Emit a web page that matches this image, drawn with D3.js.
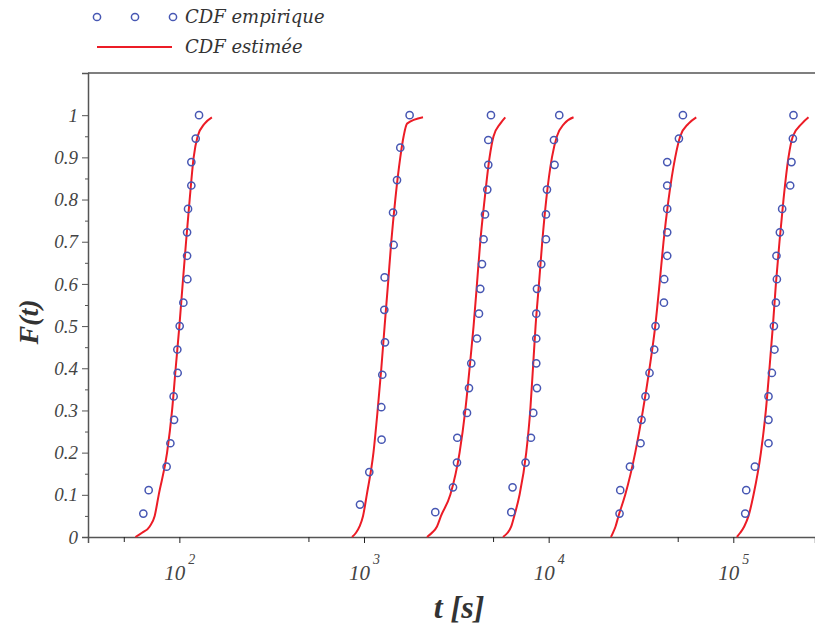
<!DOCTYPE html>
<html>
<head>
<meta charset="utf-8">
<script src="https://cdnjs.cloudflare.com/ajax/libs/d3/7.8.5/d3.min.js"></script>
<style>
  html, body { margin: 0; padding: 0; background: #fff; }
  svg { display: block; }
  .tick text { font-family: "Liberation Serif", "Times New Roman", serif; font-style: italic; }
</style>
</head>
<body>
<svg id="chart" width="815" height="630"></svg>
<script>
// ---------- data ----------
// empirical samples t [s], in rank order; F = rank / n
const sample1 = [63.8, 68.2, 85.3, 89.4, 93.6, 93.1, 97.9, 97.5, 100.4, 105.1, 110.5, 110.1, 110.1, 111.4, 116.1, 116.1, 122.6, 127.8];
const sample2 = [951, 1068, 1245, 1241, 1256, 1299, 1288, 1293, 1447, 1436, 1509, 1572, 1766];
const sample3 = [2432, 3034, 3188, 3200, 3612, 3703, 3810, 4090, 4194, 4263, 4354, 4442, 4520, 4652, 4710, 4710, 4870];
const sample4 = [6273, 6375, 7499, 8021, 8254, 8643, 8570, 8570, 8570, 8643, 9120, 9670, 9670, 9790, 10765, 10683, 11414];
const sample5 = [24210, 24420, 27560, 31450, 31840, 33460, 35180, 37300, 37920, 42100, 42260, 43860, 43860, 43860, 43860, 43860, 50750, 53350];
const sample6 = [116000, 117500, 130900, 155100, 155100, 155100, 161800, 167100, 165900, 170100, 172200, 171300, 178700, 183900, 203300, 206600, 210200, 211800];

// estimated CDF curves: t [s] read at the probability levels below
const curveLevels = [0, 0.01, 0.025, 0.05, 0.1, 0.2, 0.3, 0.4, 0.5, 0.6, 0.7, 0.8, 0.9, 0.95, 0.98, 0.995];
const curve1 = [57.8, 62.8, 69.1, 73.5, 77.3, 85.8, 91.3, 95.5, 100, 104.2, 108.7, 113.7, 119.5, 125.6, 137, 150];
const curve2 = [861, 905, 946, 988, 1035, 1125, 1185, 1241, 1293, 1349, 1405, 1477, 1572, 1639, 1710, 2087];
const curve3 = [2193, 2334, 2485, 2612, 2933, 3293, 3536, 3730, 3921, 4090, 4263, 4498, 4786, 5030, 5470, 5821];
const curve4 = [5657, 5991, 6273, 6514, 6957, 7562, 7949, 8222, 8494, 8861, 9233, 9705, 10420, 11090, 12150, 13640];
const curve5 = [21750, 22290, 23030, 23900, 25980, 29440, 32400, 35180, 37780, 39860, 41890, 44590, 48470, 51590, 57200, 63000];
const curve6 = [104600, 109000, 114600, 120900, 128700, 141100, 150100, 157000, 163800, 170100, 177900, 187000, 199000, 210200, 235100, 255400];

// axes
const xMajorTicks = [100, 1000, 10000, 100000];
const xMajorExponents = ["2", "3", "4", "5"];
const xMinorTicks = [50, 500, 5000, 50000];
const yMajorTicks = [0, 0.1, 0.2, 0.3, 0.4, 0.5, 0.6, 0.7, 0.8, 0.9, 1];
const yMajorLabels = ["0", "0.1", "0.2", "0.3", "0.4", "0.5", "0.6", "0.7", "0.8", "0.9", "1"];
const yMinorTicks = [0.05, 0.15, 0.25, 0.35, 0.45, 0.55, 0.65, 0.75, 0.85, 0.95];
const xDomain = [32, 277000];
const yDomain = [0, 1.1];

const legendLabels = ["CDF empirique", "CDF estimée"];
const xTitle = "t [s]";
const yTitle = "F(t)";

// ---------- drawing ----------
(function () {
const samples = [sample1, sample2, sample3, sample4, sample5, sample6];
const curves = [curve1, curve2, curve3, curve4, curve5, curve6];

const svg = d3.select("#chart");
const mLeft = 88, mRight = 815, mTop = 73, mBottom = 537;

const x = d3.scaleLog().domain(xDomain).range([mLeft, mRight]);
const y = d3.scaleLinear().domain(yDomain).range([mBottom, mTop]);

const axisColor = "#555";
const textColor = "#333";
const serif = '"Liberation Serif", "Times New Roman", serif';
const legendSerif = '"DejaVu Serif", "Liberation Serif", serif';
const blue = "#4757b3";
const red = "#ec1c26";

// frame top
svg.append("line").attr("x1", mLeft).attr("x2", mRight).attr("y1", mTop).attr("y2", mTop)
  .attr("stroke", axisColor).attr("stroke-width", 1.5);

// y axis
const yAxisG = svg.append("g").attr("transform", `translate(${mLeft},0)`)
  .call(d3.axisLeft(y).tickValues(yMajorTicks).tickSize(6).tickPadding(4)
    .tickFormat((d, i) => yMajorLabels[i]));
yAxisG.select(".domain").attr("stroke", axisColor).attr("stroke-width", 1.5);
yAxisG.selectAll(".tick line").attr("stroke", axisColor);
yAxisG.selectAll(".tick text").attr("fill", "#444").style("font-size", "19px");
const yMinorG = svg.append("g").attr("transform", `translate(${mLeft},0)`)
  .call(d3.axisLeft(y).tickValues(yMinorTicks).tickSize(3).tickFormat(""));
yMinorG.select(".domain").remove();
yMinorG.selectAll(".tick line").attr("stroke", axisColor);

// x axis
const xAxisG = svg.append("g").attr("transform", `translate(0,${mBottom})`)
  .call(d3.axisBottom(x).tickValues(xMajorTicks).tickSize(6).tickFormat(""));
xAxisG.select(".domain").attr("stroke", axisColor).attr("stroke-width", 1.5);
xAxisG.selectAll(".tick line").attr("stroke", "#222");
const xMinorG = svg.append("g").attr("transform", `translate(0,${mBottom})`)
  .call(d3.axisBottom(x).tickValues(xMinorTicks).tickSize(5).tickFormat(""));
xMinorG.select(".domain").remove();
xMinorG.selectAll(".tick line").attr("stroke", "#222");

// x tick labels 10^n
xMajorTicks.forEach((v, i) => {
  svg.append("text")
    .attr("x", x(v) + 6).attr("y", mBottom + 43)
    .attr("text-anchor", "end")
    .attr("font-family", serif).attr("font-style", "italic")
    .attr("font-size", 21).attr("fill", "#444")
    .text("10");
  svg.append("text")
    .attr("x", x(v) + 9).attr("y", mBottom + 27)
    .attr("text-anchor", "start")
    .attr("font-family", serif).attr("font-style", "italic")
    .attr("font-size", 14).attr("fill", "#444")
    .text(xMajorExponents[i]);
});

// curves
const line = d3.line()
  .x(d => x(d[0])).y(d => y(d[1]))
  .curve(d3.curveMonotoneX);
curves.forEach(c => {
  svg.append("path")
    .datum(c.map((t, i) => [t, curveLevels[i]]))
    .attr("d", line)
    .attr("fill", "none").attr("stroke", red).attr("stroke-width", 2);
});

// empirical points
samples.forEach(s => {
  const n = s.length;
  svg.append("g").selectAll("circle")
    .data(s.map((t, i) => [t, (i + 1) / n]))
    .join("circle")
    .attr("cx", d => x(d[0])).attr("cy", d => y(d[1]))
    .attr("r", 3.6)
    .attr("fill", "none").attr("stroke", blue).attr("stroke-width", 1.5);
});

// axis titles
svg.append("text")
  .attr("x", 459).attr("y", 618)
  .attr("text-anchor", "middle")
  .attr("font-family", serif).attr("font-style", "italic").attr("font-weight", "bold")
  .attr("font-size", 32).attr("fill", textColor)
  .text(xTitle);
svg.append("text")
  .attr("transform", `translate(38,322) rotate(-90)`)
  .attr("text-anchor", "middle")
  .attr("font-family", serif).attr("font-style", "italic").attr("font-weight", "bold")
  .attr("font-size", 28).attr("fill", textColor)
  .text(yTitle);

// legend
const legend = svg.append("g");
[97, 135, 173].forEach(cx => {
  legend.append("circle").attr("cx", cx).attr("cy", 17).attr("r", 3.6)
    .attr("fill", "none").attr("stroke", blue).attr("stroke-width", 1.5);
});
legend.append("line").attr("x1", 97).attr("x2", 172).attr("y1", 47).attr("y2", 47)
  .attr("stroke", red).attr("stroke-width", 2);
legendLabels.forEach((lab, i) => {
  legend.append("text").attr("x", 185).attr("y", 23 + i * 30)
    .attr("font-family", legendSerif).attr("font-style", "italic")
    .attr("font-size", 18).attr("fill", textColor).text(lab);
});
})();
</script>
</body>
</html>
